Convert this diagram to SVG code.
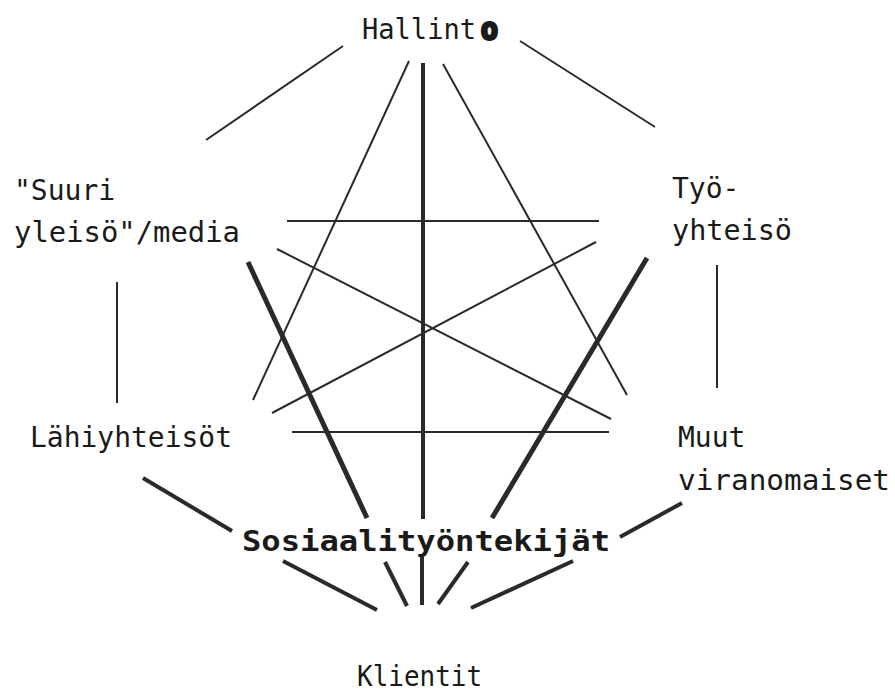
<svg xmlns="http://www.w3.org/2000/svg" width="895" height="694" viewBox="0 0 895 694">
<style>
.t{font-family:"DejaVu Sans Mono","Liberation Mono",monospace;font-size:28px;fill:#1a1a1a}
.b{font-weight:bold}
.thin{stroke:#2a2a2a;stroke-width:2;fill:none;stroke-linecap:butt}
.thick{stroke:#2a2a2a;stroke-width:4;fill:none}
.heavy{stroke:#2a2a2a;stroke-width:5;fill:none}
</style>
<rect width="895" height="694" fill="#ffffff"/>
<g id="connectors">
<line class="thin" x1="343" y1="46" x2="206" y2="140"/>
<line class="thin" x1="520" y1="41" x2="655" y2="127"/>
<line class="thin" x1="409" y1="61" x2="253" y2="400"/>
<line class="thin" x1="443" y1="64" x2="627" y2="395"/>
<line class="thin" x1="287" y1="221" x2="599" y2="221"/>
<line class="thin" x1="292" y1="432" x2="609" y2="432"/>
<line class="thin" x1="277" y1="249" x2="611" y2="419"/>
<line class="thin" x1="596" y1="242" x2="272" y2="413"/>
<line class="thin" x1="117" y1="282" x2="117" y2="403"/>
<line class="thin" x1="717" y1="265" x2="717" y2="388"/>
<line class="thick" x1="423" y1="63" x2="423" y2="519"/>
<line class="thick" x1="422" y1="557" x2="422" y2="605"/>
<line class="heavy" x1="248" y1="262" x2="367" y2="518"/>
<line class="heavy" x1="647" y1="258" x2="492" y2="518"/>
<line class="thick" x1="143" y1="478" x2="232" y2="531"/>
<line class="thick" x1="620" y1="537" x2="682" y2="503"/>
<line class="thick" x1="283" y1="561" x2="377" y2="610"/>
<line class="thick" x1="385" y1="562" x2="407" y2="606"/>
<line class="thick" x1="468" y1="562" x2="438" y2="604"/>
<line class="thick" x1="573" y1="561" x2="471" y2="608"/>
</g>
<g id="hallinto"><text class="t" x="362" y="39" font-size="27" textLength="114" lengthAdjust="spacingAndGlyphs">Hallint</text><text class="t" x="481" y="39" font-size="26" stroke="#1a1a1a" stroke-width="4">o</text></g>
<g id="suuri-yleiso"><text class="t" x="14" y="200">"Suuri</text><text class="t" x="14" y="242" textLength="226" lengthAdjust="spacingAndGlyphs">yleisö"/media</text></g>
<g id="tyoyhteiso"><text class="t" x="672" y="198">Työ-</text><text class="t" x="672" y="240" textLength="120" lengthAdjust="spacingAndGlyphs">yhteisö</text></g>
<g id="lahiyhteisot"><text class="t" x="30" y="447" textLength="202" lengthAdjust="spacingAndGlyphs">Lähiyhteisöt</text></g>
<g id="muut-viranomaiset"><text class="t" x="678" y="447">Muut</text><text class="t" x="678" y="490" textLength="212" lengthAdjust="spacingAndGlyphs">viranomaiset</text></g>
<g id="sosiaalityontekijat"><text class="t b" x="242" y="551" textLength="368" lengthAdjust="spacingAndGlyphs">Sosiaalityöntekijät</text></g>
<g id="klientit"><text class="t" x="357" y="686" textLength="125" lengthAdjust="spacingAndGlyphs">Klientit</text></g>
</svg>
